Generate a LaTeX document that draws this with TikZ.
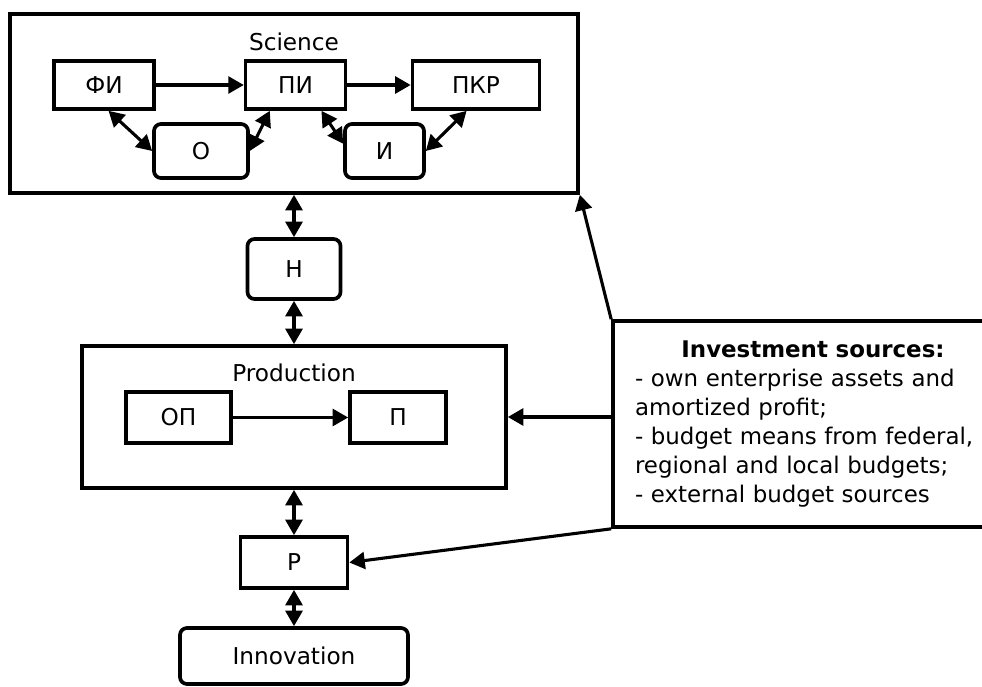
\documentclass[tikz,border=0pt]{standalone}
\usepackage{fontspec}
\setmainfont{DejaVu Sans}
\usepackage{tikz}
\usetikzlibrary{arrows.meta}
\hyphenpenalty=10000
\tikzset{
  plainbox/.style = {draw, line width=2.6pt, minimum height=1.2cm, align=center, inner sep=0pt},
  roundbox/.style = {plainbox, rounded corners=5pt},
  framebox/.style = {draw, line width=2.6pt, inner sep=0pt},
  fwd/.style      = {-{Triangle[length=11pt, width=12pt]}, line width=2.2pt},
  twoway/.style   = {{Triangle[length=11pt, width=12pt]}-{Triangle[length=11pt, width=12pt]}, line width=2.2pt}
}

\begin{document}
\begin{tikzpicture}[x=1cm, y=1cm, font=\fontsize{16.5}{20}\selectfont]

    \useasboundingbox (0,0) rectangle (24.55,-17.175);

    % -- Science block ------------------------------------------------------
    \node[framebox, minimum width=14.2cm, minimum height=4.475cm] (sci) at (7.35, -2.5875) {};
    \node (scilbl) at (7.35, -1.05) {Science};

    \node[plainbox, minimum width=2.5cm]   (fi)  at ( 2.6,  -2.125) {ФИ};
    \node[plainbox, minimum width=2.5cm]   (pi)  at ( 7.39, -2.125) {ПИ};
    \node[plainbox, minimum width=3.175cm] (pkr) at (11.9,  -2.125) {ПКР};

    \node[roundbox, minimum width=2.35cm,  minimum height=1.35cm] (o) at (5.025,  -3.775) {О};
    \node[roundbox, minimum width=1.975cm, minimum height=1.35cm] (i) at (9.6125, -3.775) {И};

    \draw[fwd] (fi) -- (pi);
    \draw[fwd] (pi) -- (pkr);
    \draw[twoway] (fi.-80)  -- (o.west);
    \draw[twoway] (o.east)  -- (pi.-135);
    \draw[twoway] (pi.-45)  -- (i.170);
    \draw[twoway] (i.east)  -- (pkr.-110);

    % -- Middle link --------------------------------------------------------
    \node[roundbox, minimum width=2.325cm, minimum height=1.5cm] (n) at (7.35, -6.725) {Н};

    % -- Production block ---------------------------------------------------
    \node[framebox, minimum width=10.6cm, minimum height=3.55cm] (prod) at (7.35, -10.425) {};
    \node (prodlbl) at (7.35, -9.325) {Production};

    \node[plainbox, minimum width=2.625cm, minimum height=1.275cm] (op) at (4.4625, -10.4375) {ОП};
    \node[plainbox, minimum width=2.4cm,   minimum height=1.275cm] (pp) at (9.95,   -10.4375) {П};
    \draw[fwd] (op) -- (pp);

    % -- Output chain -------------------------------------------------------
    \node[plainbox, minimum width=2.675cm, minimum height=1.275cm] (r) at (7.35, -14.0625) {Р};
    \node[roundbox, minimum width=5.7cm, minimum height=1.4cm] (inno) at (7.35, -16.4) {Innovation};

    \draw[twoway] (sci.south)  -- (n.north);
    \draw[twoway] (n.south)    -- (prod.north);
    \draw[twoway] (prod.south) -- (r.north);
    \draw[twoway] (r.south)    -- (inno.north);

    % -- Investment sources -------------------------------------------------
    \node[framebox, minimum width=10cm, minimum height=5.15cm, text width=8.9cm,
          inner xsep=0.55cm, align=left, font=\fontsize{16.3}{20.5}\selectfont] (inv) at (20.325, -10.6)
      {\makebox[\linewidth][c]{\textbf{Investment sources:}}\\
       - own enterprise assets and\\
       amortized profit;\\
       - budget means from federal,\\
       regional and local budgets;\\
       - external budget sources};

    \draw[fwd] (inv.north west)        -- (sci.south east);
    \draw[fwd] (inv.west |- prod.east) -- (prod.east);
    \draw[fwd] (inv.south west)        -- (r.east);

\end{tikzpicture}
\end{document}
